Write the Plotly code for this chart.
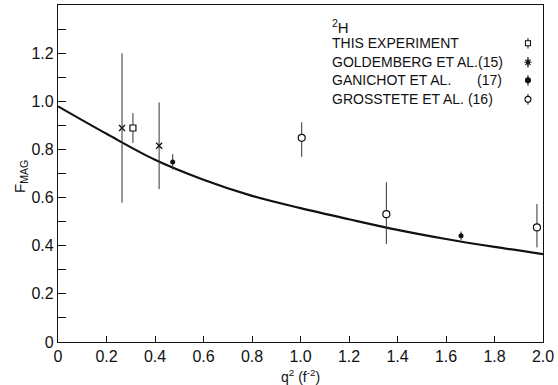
import plotly.graph_objects as go

# ---- data ----
this_x = [0.309]
this_y = [0.889]
this_err = [0.062]

gold_x = [0.264, 0.417]
gold_y = [0.889, 0.815]
gold_err = [0.31, 0.18]

gani_x = [0.473, 1.662]
gani_y = [0.748, 0.441]
gani_err = [0.032, 0.018]

gros_x = [1.005, 1.354, 1.975]
gros_y = [0.848, 0.531, 0.476]
gros_err_plus = [0.065, 0.133, 0.097]
gros_err_minus = [0.079, 0.124, 0.083]

curve_x = [0.0, 0.2, 0.4, 0.6, 0.8, 1.0, 1.2, 1.4, 1.6, 1.8, 2.0]
curve_y = [0.979, 0.865, 0.757, 0.674, 0.607, 0.556, 0.510, 0.466, 0.428, 0.395, 0.365]

x_ticks = [0, 0.2, 0.4, 0.6, 0.8, 1.0, 1.2, 1.4, 1.6, 1.8, 2.0]
x_labels = ["0", "0.2", "0.4", "0.6", "0.8", "1.0", "1.2", "1.4", "1.6", "1.8", "2.0"]
y_ticks = [0, 0.2, 0.4, 0.6, 0.8, 1.0, 1.2]
y_labels = ["0", "0.2", "0.4", "0.6", "0.8", "1.0", "1.2"]

legend_names = ["THIS EXPERIMENT", "GOLDEMBERG ET AL.(15)", "GANICHOT ET AL.", "GROSSTETE ET AL. (16)"]
# legend layout (positions of key rows, in data units)
leg_text_x = 1.122
leg_rows_y = [1.241, 1.162, 1.087, 1.008]
leg_key_x = 1.938

FONT = "Liberation Sans, Arial, sans-serif"
BLACK = "#111111"

fig = go.Figure()

fig.add_trace(go.Scatter(x=curve_x, y=curve_y, mode="lines",
                         line=dict(color=BLACK, width=2.2, shape="spline"),
                         hoverinfo="skip"))

def err(arr, arr_minus=None):
    d = dict(type="data", array=arr, visible=True, color="#333333", thickness=1, width=0)
    if arr_minus is not None:
        d["symmetric"] = False
        d["arrayminus"] = arr_minus
    return d

fig.add_trace(go.Scatter(x=gold_x, y=gold_y, mode="markers", error_y=err(gold_err),
                         marker=dict(symbol="x-thin", size=6, line=dict(color=BLACK, width=1.3))))
fig.add_trace(go.Scatter(x=this_x, y=this_y, mode="markers", error_y=err(this_err),
                         marker=dict(symbol="square", size=6, color="white", line=dict(color=BLACK, width=1.2))))
fig.add_trace(go.Scatter(x=gani_x, y=gani_y, mode="markers", error_y=err(gani_err),
                         marker=dict(symbol="circle", size=5, color=BLACK, line=dict(color=BLACK, width=0))))
fig.add_trace(go.Scatter(x=gros_x, y=gros_y, mode="markers",
                         error_y=err(gros_err_plus, gros_err_minus),
                         marker=dict(symbol="circle", size=7, color="white", line=dict(color=BLACK, width=1.2))))

# legend keys (drawn on the right of the text, as in the original)
key_symbols = ["square", "asterisk-open", "circle", "circle"]
key_fill = ["white", BLACK, BLACK, "white"]
key_size = [5, 6, 5, 6]
for sym, fill, sz, yy in zip(key_symbols, key_fill, key_size, leg_rows_y):
    fig.add_trace(go.Scatter(x=[leg_key_x], y=[yy], mode="markers",
                             error_y=dict(type="constant", value=0.022, color=BLACK, thickness=1, width=0),
                             marker=dict(symbol=sym, size=sz, color=fill, line=dict(color=BLACK, width=1.1))))

annotations = [
    dict(x=leg_text_x, y=1.31, text="<sup>2</sup>H", xanchor="left", yanchor="middle", showarrow=False,
         font=dict(size=15, family=FONT, color=BLACK)),
]
for name, yy in zip(legend_names, leg_rows_y):
    annotations.append(dict(x=leg_text_x, y=yy, text=name, xanchor="left", yanchor="middle",
                            showarrow=False, font=dict(size=14, family=FONT, color=BLACK)))
annotations.append(dict(x=1.839, y=leg_rows_y[2], text="(17)", xanchor="right", yanchor="middle",
                        showarrow=False, font=dict(size=14, family=FONT, color=BLACK)))
annotations.append(dict(xref="paper", yref="paper", x=-0.076, y=0.49, text="F<sub>MAG</sub>",
                        textangle=-90, showarrow=False, xanchor="center", yanchor="middle",
                        font=dict(size=15, family=FONT, color=BLACK)))
annotations.append(dict(xref="paper", yref="paper", x=0.5, y=-0.068, text="q<sup>2</sup> (f<sup>-2</sup>)",
                        showarrow=False, xanchor="center", yanchor="top",
                        font=dict(size=14, family=FONT, color=BLACK)))

fig.update_layout(
    width=558, height=385,
    margin=dict(l=58, r=15, t=5, b=43, autoexpand=False),
    paper_bgcolor="white", plot_bgcolor="white",
    showlegend=False,
    font=dict(family=FONT, size=15, color=BLACK),
    annotations=annotations,
    xaxis=dict(range=[0, 2.0], tickvals=x_ticks, ticktext=x_labels, ticks="inside", ticklen=6,
               tickcolor=BLACK, tickwidth=1.2, showline=True, linecolor=BLACK, linewidth=1.3,
               mirror=True, showgrid=False, zeroline=False, automargin=False,
               tickfont=dict(size=16, family=FONT)),
    yaxis=dict(range=[0, 1.4], tickvals=y_ticks, ticktext=y_labels, ticks="inside", ticklen=8,
               tickcolor=BLACK, tickwidth=1.2, showline=True, linecolor=BLACK, linewidth=1.3,
               mirror=True, showgrid=False, zeroline=False, automargin=False,
               tickfont=dict(size=16, family=FONT),
               minor=dict(tickvals=[0.1, 0.3, 0.5, 0.7, 0.9, 1.1, 1.3], ticks="inside", ticklen=8,
                          tickcolor=BLACK, tickwidth=1.2)),
)

fig.write_html("out.html", config={"displayModeBar": False},
               post_script="document.body.style.margin='0px';")
